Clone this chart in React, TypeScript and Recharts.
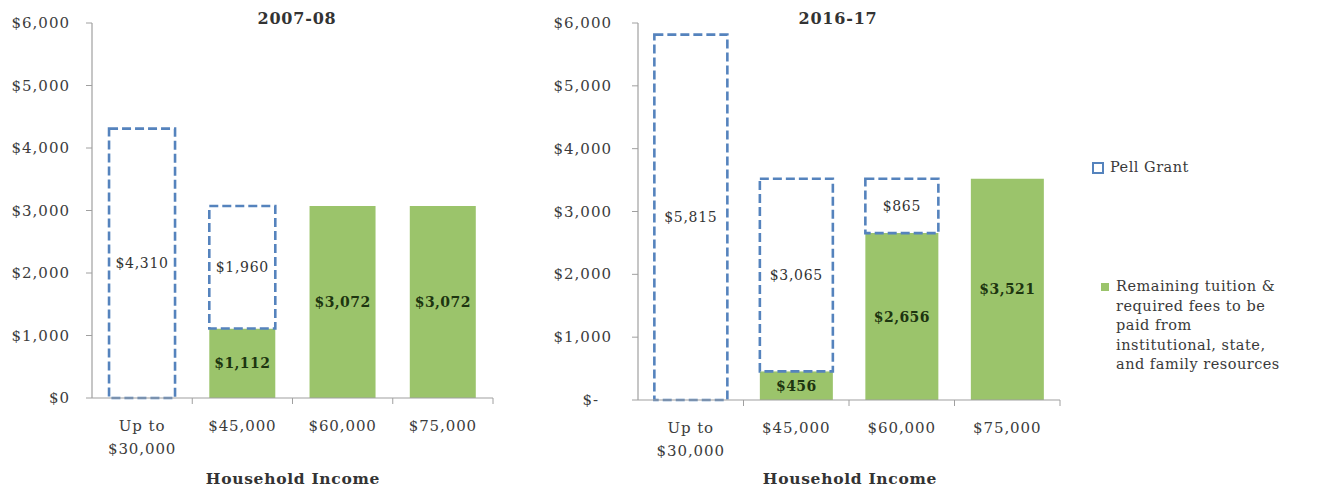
import React from 'react';
import { BarChart, Bar, XAxis, YAxis, LabelList } from 'recharts';

const categories = ['Up to\n$30,000', '$45,000', '$60,000', '$75,000'];
const pell0708 = [4310, 1960, 0, 0];
const remaining0708 = [0, 1112, 3072, 3072];
const pell1617 = [5815, 3065, 865, 0];
const remaining1617 = [0, 456, 2656, 3521];
const yTicks = [0, 1000, 2000, 3000, 4000, 5000, 6000];
const titles = ['2007-08', '2016-17'];
const xAxisTitle = 'Household Income';
const legendPell = 'Pell Grant';
const legendRemainingLines = ['Remaining tuition &', 'required fees to be', 'paid from', 'institutional, state,', 'and family resources'];

const FONT = '"DejaVu Serif", "Liberation Serif", serif';
const GREEN = '#9bc46b';
const BLUE = '#5583bd';
const AXIS = '#a0a0a0';
const TEXT = '#3c3c3c';

const build = (pell: number[], rem: number[]) =>
  categories.map((c, i) => ({ cat: c, pell: pell[i], remaining: rem[i] }));

const data0708 = build(pell0708, remaining0708);
const data1617 = build(pell1617, remaining1617);

const money = (v: any) => {
  let n = v;
  if (Array.isArray(v)) n = v[1] - v[0];
  n = Number(n);
  if (!n) return '';
  return '$' + n.toLocaleString('en-US');
};

const makeXTick = (fallbackHalf: number) => (props: any) => {
  const { x, y, payload } = props;
  const half = payload && payload.offset ? payload.offset : fallbackHalf;
  const lines = String(payload.value).split('\n');
  return (
    <g>
      <line x1={x + half} x2={x + half} y1={y} y2={y + 6} stroke={AXIS} strokeWidth={1} />
      {lines.map((l, i) => (
        <text
          key={i}
          x={x}
          y={y + 33 + i * 23}
          textAnchor="middle"
          fontFamily={FONT}
          fontSize={15}
          letterSpacing={0.9}
          fill={TEXT}
        >
          {l}
        </text>
      ))}
    </g>
  );
};

const makeYTick = (gap: number, dash: boolean) => (props: any) => {
  const { x, y, payload } = props;
  const v = payload.value;
  let label = '$' + Number(v).toLocaleString('en-US');
  let shift = 0;
  if (v === 0 && dash) {
    label = '$-';
    shift = -13;
  }
  return (
    <text
      x={x - gap + shift}
      y={y + 5}
      textAnchor="end"
      fontFamily={FONT}
      fontSize={15}
      letterSpacing={1}
      fill={TEXT}
    >
      {label}
    </text>
  );
};

type PanelProps = {
  data: any[];
  left: number;
  width: number;
  yAxisWidth: number;
  rightMargin: number;
  top: number;
  bottom: number;
  gap: string;
  labelGap: number;
  dash: boolean;
  half: number;
};

const Panel = ({ data, left, width, yAxisWidth, rightMargin, top, bottom, gap, labelGap, dash, half }: PanelProps) => (
  <div style={{ position: 'absolute', left, top: 0 }}>
    <BarChart
      width={width}
      height={489}
      data={data}
      margin={{ top, right: rightMargin, bottom: 0, left: 0 }}
      barCategoryGap={gap}
    >
      <XAxis
        dataKey="cat"
        height={489 - bottom}
        axisLine={{ stroke: AXIS, strokeWidth: 1.2 }}
        tickLine={false}
        tickSize={0}
        tickMargin={0}
        interval={0}
        tick={makeXTick(half)}
      />
      <YAxis
        width={yAxisWidth}
        domain={[0, 6000]}
        ticks={yTicks}
        interval={0}
        axisLine={{ stroke: AXIS, strokeWidth: 1.2 }}
        tickLine={{ stroke: AXIS }}
        tickSize={6}
        tickMargin={0}
        tick={makeYTick(labelGap, dash)}
      />
      <Bar dataKey="remaining" stackId="a" fill={GREEN} isAnimationActive={false}>
        <LabelList
          dataKey="remaining"
          position="center"
          formatter={money}
          fontFamily={FONT}
          fontSize={14}
          fontWeight="bold"
          letterSpacing={0.4}
          fill="#1d3510"
        />
      </Bar>
      <Bar
        dataKey="pell"
        stackId="a"
        fill="#ffffff"
        stroke={BLUE}
        strokeWidth={2.6}
        strokeDasharray="9 4"
        isAnimationActive={false}
      >
        <LabelList
          dataKey="pell"
          position="center"
          formatter={money}
          fontFamily={FONT}
          fontSize={14}
          letterSpacing={0.7}
          fill="#333333"
        />
      </Bar>
    </BarChart>
  </div>
);

const titleStyle: React.CSSProperties = {
  position: 'absolute',
  transform: 'translate(-50%, -50%)',
  fontFamily: FONT,
  fontWeight: 'bold',
  fontSize: 15.5,
  color: '#333',
  whiteSpace: 'nowrap',
};

const legendText: React.CSSProperties = {
  fontFamily: FONT,
  fontSize: 14.5,
  letterSpacing: 0.5,
  color: '#3a3a3a',
  lineHeight: '19.5px',
  whiteSpace: 'nowrap',
};

export default function App() {
  return (
    <div style={{ position: 'absolute', left: 0, top: 0, width: 1320, height: 489, background: '#fff', overflow: 'hidden' }}>
      <Panel
        data={data0708}
        left={0}
        width={560}
        yAxisWidth={92}
        rightMargin={67}
        top={23}
        bottom={398}
        gap="17%"
        labelGap={16}
        dash={false}
        half={50}
      />
      <Panel
        data={data1617}
        left={540}
        width={540}
        yAxisWidth={98}
        rightMargin={20}
        top={23}
        bottom={400}
        gap="15.5%"
        labelGap={20}
        dash={true}
        half={52.5}
      />
      <div style={{ ...titleStyle, left: 297, top: 18, fontSize: 16, letterSpacing: 0.8 }}>{titles[0]}</div>
      <div style={{ ...titleStyle, left: 838, top: 18, fontSize: 16, letterSpacing: 0.8 }}>{titles[1]}</div>
      <div style={{ ...titleStyle, left: 293, top: 478, letterSpacing: 0.7 }}>{xAxisTitle}</div>
      <div style={{ ...titleStyle, left: 850, top: 478, letterSpacing: 0.7 }}>{xAxisTitle}</div>

      <div style={{ position: 'absolute', left: 1092, top: 158, display: 'flex', alignItems: 'center' }}>
        <div
          style={{
            width: 8,
            height: 8,
            border: `2px dashed ${BLUE}`,
            background: '#fff',
            marginRight: 6,
          }}
        />
        <div style={legendText}>{legendPell}</div>
      </div>

      <div style={{ position: 'absolute', left: 1101, top: 277, display: 'flex', alignItems: 'flex-start' }}>
        <div style={{ width: 8, height: 8, background: GREEN, marginRight: 7, marginTop: 6 }} />
        <div style={legendText}>
          {legendRemainingLines.map((l, i) => (
            <div key={i}>{l}</div>
          ))}
        </div>
      </div>
    </div>
  );
}
